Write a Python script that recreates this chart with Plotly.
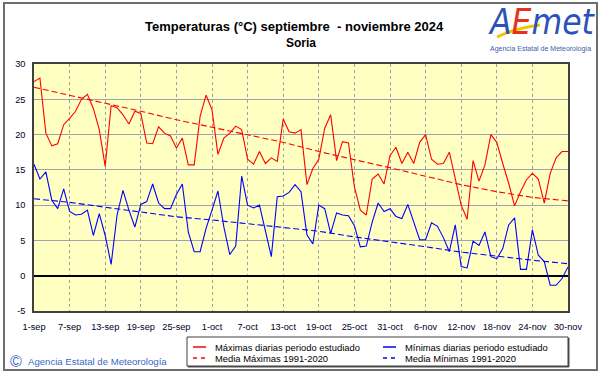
import pandas as pd
import plotly.graph_objects as go

# ---------------- data ----------------
dates = pd.date_range("2024-09-01", "2024-11-30", freq="D")

tmax = [27.5, 28.0, 20.2, 18.4, 18.7, 21.4, 22.3, 23.3, 25.0, 25.7,
        23.7, 20.7, 15.5, 24.1, 23.8, 22.8, 21.5, 23.3, 23.0, 18.8,
        18.7, 21.1, 20.2, 19.8, 18.1, 19.5, 15.7, 15.7, 22.6, 25.6,
        23.5, 17.2, 19.5, 20.2, 21.2, 20.7, 16.5, 15.8, 17.6, 15.9,
        16.7, 16.2, 22.2, 20.4, 20.2, 20.7, 12.9, 15.2, 16.5, 20.9,
        22.8, 16.3, 19.0, 18.8, 12.6, 9.3, 8.6, 13.7, 14.4, 13.0,
        17.0, 18.2, 15.9, 17.5, 15.9, 18.9, 20.0, 16.5, 15.8, 15.9,
        17.5, 13.6, 10.0, 8.0, 16.3, 13.4, 15.7, 20.0, 18.9, 15.9,
        13.1, 9.9, 11.9, 13.6, 14.5, 13.7, 10.3, 14.5, 16.7, 17.6,
        17.6]

tmin = [15.8, 13.7, 14.7, 10.7, 9.5, 12.3, 9.1, 8.6, 8.7, 9.3,
        5.7, 8.8, 5.7, 1.6, 8.6, 12.1, 9.3, 6.9, 10.1, 10.5,
        13.0, 10.3, 9.5, 9.5, 11.5, 13.0, 6.2, 3.4, 3.4, 6.7,
        9.3, 12.0, 6.9, 3.0, 4.2, 14.1, 10.0, 9.6, 10.0, 6.4,
        2.7, 11.2, 11.3, 11.8, 12.9, 11.9, 5.8, 4.5, 10.0, 9.5,
        6.0, 8.9, 8.6, 8.5, 7.1, 4.1, 4.2, 7.6, 10.3, 9.1,
        9.5, 8.4, 8.1, 10.1, 7.6, 5.1, 5.1, 7.5, 7.0, 5.4,
        3.4, 7.2, 1.3, 1.1, 4.9, 4.3, 6.2, 2.7, 2.4, 3.85,
        7.2, 8.2, 0.9, 0.9, 6.5, 2.9, 2.0, -1.35, -1.35, -0.4,
        1.25]

# climatology 1991-2020 read at the tick dates
tick_dates = pd.date_range("2024-09-01", "2024-11-30", freq="6D")
tick_labels = ["1-sep", "7-sep", "13-sep", "19-sep", "25-sep", "1-oct", "7-oct",
               "13-oct", "19-oct", "25-oct", "31-oct", "6-nov", "12-nov",
               "18-nov", "24-nov", "30-nov"]
media_max = [26.7, 25.6, 24.5, 23.3, 22.1, 21.0, 20.0, 18.9, 17.6, 16.5,
             15.3, 14.1, 12.9, 11.9, 11.1, 10.6]
media_min = [10.9, 10.4, 9.7, 9.05, 8.35, 7.9, 7.4, 6.9, 6.3, 5.5,
             4.85, 4.1, 3.35, 2.75, 2.2, 1.7]

y_ticks = [-5, 0, 5, 10, 15, 20, 25, 30]

legend_names = ["Máximas diarias periodo estudiado",
                "Mínimas diarias periodo estudiado",
                "Media Máximas 1991-2020",
                "Media Mínimas 1991-2020"]

# ---------------- layout helpers ----------------
W, H = 601, 374
L, R, T, B = 34, 33, 64, 63
PW, PH = W - L - R, H - T - B


def px(x):
    return (x - L) / PW


def py(y):
    return (H - B - y) / PH


RED = "#ff0000"
BLUE = "#0000ff"
FONT = "Liberation Sans, Arial, sans-serif"

fig = go.Figure()
fig.add_trace(go.Scatter(x=dates, y=tmax, mode="lines", name=legend_names[0],
                         line=dict(color=RED, width=1.1)))
fig.add_trace(go.Scatter(x=dates, y=tmin, mode="lines", name=legend_names[1],
                         line=dict(color=BLUE, width=1.1)))
fig.add_trace(go.Scatter(x=tick_dates, y=media_max, mode="lines", name=legend_names[2],
                         line=dict(color=RED, width=1.1, dash="6px,3px")))
fig.add_trace(go.Scatter(x=tick_dates, y=media_min, mode="lines", name=legend_names[3],
                         line=dict(color=BLUE, width=1.1, dash="6px,3px")))

shapes = []
annotations = []

# outer frame
shapes.append(dict(type="rect", xref="paper", yref="paper",
                   x0=px(4), x1=px(597), y0=py(370), y1=py(3),
                   line=dict(color="#6e6e6e", width=2), layer="below"))

# legend box (manual) with shadow
shapes.append(dict(type="rect", xref="paper", yref="paper",
                   x0=px(188), x1=px(569), y0=py(367), y1=py(338),
                   line=dict(color="#505050", width=1), fillcolor="#505050", layer="above"))
shapes.append(dict(type="rect", xref="paper", yref="paper",
                   x0=px(187), x1=px(568), y0=py(366), y1=py(337),
                   line=dict(color="#404040", width=1), fillcolor="#ffffff", layer="above"))

leg_pos = [(193, 213, 347), (383, 403, 347), (193, 213, 358), (383, 403, 358)]
leg_style = [(RED, "solid"), (BLUE, "solid"), (RED, "4px,4px"), (BLUE, "4px,4px")]
for (lx, tx, ly), (col, dsh), name in zip(leg_pos, leg_style, legend_names):
    shapes.append(dict(type="line", xref="paper", yref="paper",
                       x0=px(lx), x1=px(lx + 13), y0=py(ly), y1=py(ly),
                       line=dict(color=col, width=1.5, dash=dsh), layer="above"))
    annotations.append(dict(xref="paper", yref="paper", x=px(tx), y=py(ly),
                            text=name, showarrow=False, xanchor="left", yanchor="middle",
                            font=dict(family=FONT, size=9.4, color="#000000")))

# title
annotations.append(dict(xref="paper", yref="paper", x=px(294), y=py(26.5),
                        text="<b>Temperaturas (°C) septiembre\u00a0 - noviembre 2024</b>",
                        showarrow=False, xanchor="center", yanchor="middle",
                        font=dict(family=FONT, size=13, color="#000000")))
annotations.append(dict(xref="paper", yref="paper", x=px(300.5), y=py(43),
                        text="<b>Soria</b>", showarrow=False, xanchor="center", yanchor="middle",
                        font=dict(family=FONT, size=12, color="#000000")))

# logo
shapes.append(dict(type="path", xref="paper", yref="paper",
                   path="M %f,%f Q %f,%f %f,%f" % (px(497), py(37), px(516), py(28), px(540), py(25)),
                   line=dict(color="#f2c200", width=3), layer="above"))
annotations.append(dict(xref="paper", yref="paper", x=px(542), y=py(22),
                        text="<i><span style='color:#2a52b8'>A</span>"
                             "<span style='color:#e5321e'>E</span>"
                             "<span style='color:#2a52b8'>met</span></i>",
                        showarrow=False, xanchor="center", yanchor="middle",
                        font=dict(family="DejaVu Sans Condensed, DejaVu Sans", size=35)))
annotations.append(dict(xref="paper", yref="paper", x=px(540.5), y=py(49),
                        text="Agencia Estatal de Meteorología", showarrow=False,
                        xanchor="center", yanchor="middle",
                        font=dict(family=FONT, size=7, color="#3a5fa8")))

# copyright
annotations.append(dict(xref="paper", yref="paper", x=px(16), y=py(361),
                        text="©", showarrow=False, xanchor="center", yanchor="middle",
                        font=dict(family=FONT, size=16, color="#3a68c8")))
annotations.append(dict(xref="paper", yref="paper", x=px(26), y=py(361),
                        text="Agencia Estatal de Meteorología", showarrow=False,
                        xanchor="left", yanchor="middle",
                        font=dict(family=FONT, size=9.6, color="#3a68c8")))

fig.update_layout(
    width=W, height=H,
    margin=dict(l=L, r=R, t=T, b=B, pad=0),
    paper_bgcolor="#ffffff",
    plot_bgcolor="#ffffc2",
    showlegend=False,
    shapes=shapes,
    annotations=annotations,
    font=dict(family=FONT, size=9.2, color="#000000"),
)

fig.update_xaxes(
    type="date",
    range=[dates[0], dates[-1]],
    tickmode="array", tickvals=tick_dates, ticktext=tick_labels,
    showgrid=True, gridcolor="#a0a0a0", gridwidth=1, griddash="dot",
    showline=True, mirror=True, linecolor="#404040", linewidth=1.5,
    ticks="outside", ticklen=6, tickcolor="rgba(0,0,0,0)",
    tickfont=dict(family=FONT, size=9.2, color="#000018"),
    zeroline=False,
)
fig.update_yaxes(
    range=[-5, 30],
    tickmode="array", tickvals=y_ticks, ticktext=[str(v) for v in y_ticks],
    showgrid=True, gridcolor="#a0a0b4", gridwidth=1,
    showline=True, mirror=True, linecolor="#404040", linewidth=1.5,
    ticks="outside", ticklen=5, tickcolor="rgba(0,0,0,0)",
    tickfont=dict(family=FONT, size=9.2, color="#000018"),
    zeroline=True, zerolinecolor="#000000", zerolinewidth=1.5,
)

fig.write_html(
    "out.html",
    config={"displayModeBar": False},
    post_script="document.body.style.margin='0';document.body.style.overflow='hidden';",
)
